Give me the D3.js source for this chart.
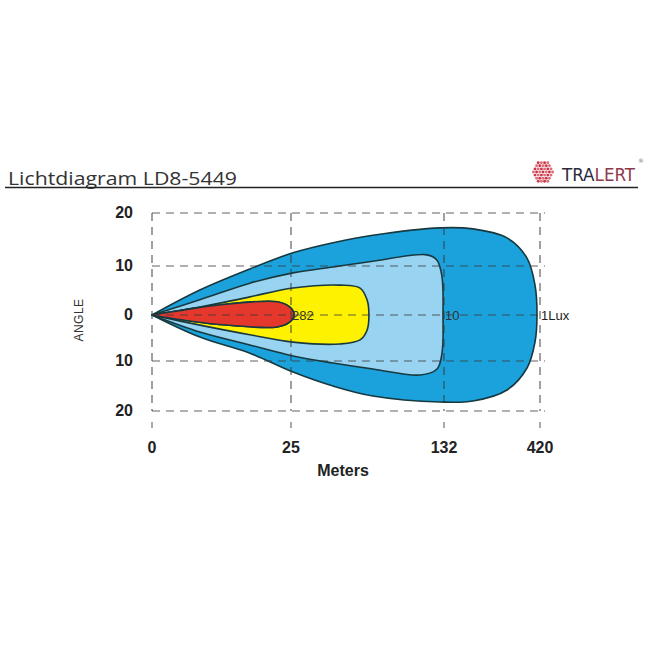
<!DOCTYPE html>
<html><head><meta charset="utf-8">
<script src="https://cdn.jsdelivr.net/npm/d3@7"></script>
<style>body{margin:0;background:#fff}svg{display:block}</style>
</head><body>
<svg id="c" width="650" height="650"></svg>
<script>
// ---- data ----
const title = "Lichtdiagram LD8-5449";
const brandA = "TRA", brandB = "LERT";
const xTicks = [0, 25, 132, 420];
const yTicks = [20, 10, 0, -10, -20];
const xLabel = "Meters", yLabel = "ANGLE";
// contours: [meters, angle]
const contour1Lux = [[0,0],[8.6,5.1],[17.6,9.4],[26.4,12.5],[54.4,14.4],[82.3,15.8],[129.2,17.2],[219,17.0],[321,15.3],[381,11.5],[405,6.1],[411,0],[405,-5.9],[381,-11.4],[321,-15.8],[219,-18.0],[129.2,-18.2],[82.3,-17.0],[54.4,-15.0],[26.4,-12.2],[17.6,-8.3],[8.6,-4.8],[0,0]];
const contour10 = [[0,0],[8.6,3.1],[17.6,6.5],[26.4,8.6],[54.4,9.8],[82.3,10.9],[120.1,12.1],[127.1,11.1],[130.6,7.8],[131.3,0],[130.6,-8.3],[127.1,-11.6],[115.3,-12.8],[82.3,-11.6],[54.4,-10.4],[26.4,-8.9],[17.6,-6.5],[8.6,-3.7],[0,0]];
const contourMid = [[0,0],[8.6,1.6],[17.6,3.7],[26.4,5.5],[59.3,6.1],[73.3,5.5],[78.2,3.1],[79.5,0],[78.2,-3.3],[73.3,-5.4],[59.3,-6.3],[26.4,-5.9],[17.6,-4.3],[8.6,-2.2],[0,0]];
const contour282 = [[0,0],[5.6,1.0],[11.7,2.0],[22.5,2.7],[24.8,1.6],[27.1,0],[24.8,-1.5],[22.5,-2.6],[11.7,-2.0],[5.6,-1.1],[0,0]];
const labelText = ["282", "10", "1Lux"];
const labelAt = [25, 132, 420];

// ---- drawing ----
const svg = d3.select("#c");
const x = d3.scaleLinear().domain(xTicks).range([152, 291, 444, 540]);
const y = d3.scaleLinear().domain(yTicks).range([213, 266, 315, 361, 411]);

// header
svg.append("text").attr("x", 8).attr("y", 185).text(title)
  .attr("font-family", "Open Sans, sans-serif").attr("font-size", 18)
  .attr("textLength", 229).attr("lengthAdjust", "spacingAndGlyphs").attr("fill", "#333");
svg.append("line").attr("x1", 5).attr("x2", 638).attr("y1", 187.5).attr("y2", 187.5)
  .attr("stroke", "#222").attr("stroke-width", 1.5);
// logo icon: hex grid of dots
const icon = svg.append("g").attr("transform", "translate(543,172)");
for (let r = -3; r <= 3; r++) {
  const n = 7 - Math.abs(r);
  for (let i = 0; i < n; i++) {
    const cx = (i - (n - 1) / 2) * 3.2, cy = r * 3.1;
    icon.append("circle").attr("cx", cx).attr("cy", cy).attr("r", 1.45)
      .attr("fill", (i + r) % 2 ? "#c8384a" : "#e06a78");
  }
}
const brand = svg.append("text").attr("x", 562).attr("y", 181)
  .attr("font-family", "DejaVu Sans Condensed, DejaVu Sans, sans-serif").attr("font-size", 17)
  .attr("font-weight", 300)
  .attr("textLength", 73).attr("lengthAdjust", "spacingAndGlyphs");
brand.append("tspan").text(brandA).attr("fill", "#2b2b3e");
brand.append("tspan").text(brandB).attr("fill", "#8e3a4e");
svg.append("text").attr("x", 638).attr("y", 163).text("®").attr("font-size", 6)
  .attr("fill", "#777").attr("font-family", "DejaVu Sans, sans-serif");

// contours
const line = d3.line().x(d => x(d[0])).y(d => y(d[1])).curve(d3.curveCatmullRom.alpha(0.5));
const shapes = [
  [contour1Lux, "#1ba2dc"],
  [contour10, "#98d3f1"],
  [contourMid, "#fff200"],
  [contour282, "#e5382c"]
];
const cg = svg.append("g");
shapes.forEach(([pts, col]) => {
  cg.append("path").attr("d", line(pts) + "Z").attr("fill", col)
    .attr("stroke", "#17393f").attr("stroke-width", 1.6).attr("stroke-linejoin", "round");
});

// grid
const grid = svg.append("g").attr("stroke", "#3a3a3a").attr("stroke-opacity", 0.8)
  .attr("stroke-width", 1.2).attr("stroke-dasharray", "8,6").attr("fill", "none");
yTicks.forEach(t => {
  grid.append("line").attr("x1", x(0)).attr("x2", x(420) + 5).attr("y1", y(t)).attr("y2", y(t));
});
xTicks.forEach(t => {
  grid.append("line").attr("x1", x(t)).attr("x2", x(t)).attr("y1", y(20)).attr("y2", y(-20));
});
// small ticks below
xTicks.forEach(t => {
  svg.append("line").attr("x1", x(t)).attr("x2", x(t)).attr("y1", 422).attr("y2", 428)
    .attr("stroke", "#555").attr("stroke-width", 1);
});
// red on top (grid hidden there in reference)
cg.append("path").attr("d", line(contour282) + "Z").attr("fill", "#e5382c")
  .attr("stroke", "#17393f").attr("stroke-width", 1.6);

// labels on contours
labelText.forEach((t, i) => {
  svg.append("text").attr("x", x(labelAt[i]) + 1).attr("y", y(0) + 5).text(t)
    .attr("font-family", "Liberation Sans, Arial, sans-serif").attr("font-size", 13)
    .attr("fill", i === 2 ? "#222" : "#333");
});

// axis labels
const bold = "Liberation Sans, Arial, sans-serif";
yTicks.forEach(t => {
  svg.append("text").attr("x", 133).attr("y", y(t) + 5).text(Math.abs(t))
    .attr("text-anchor", "end").attr("font-family", bold).attr("font-weight", "bold")
    .attr("font-size", 16).attr("fill", "#222");
});
xTicks.forEach(t => {
  svg.append("text").attr("x", x(t)).attr("y", 453).text(t)
    .attr("text-anchor", "middle").attr("font-family", bold).attr("font-weight", "bold")
    .attr("font-size", 16).attr("fill", "#222");
});
svg.append("text").attr("x", 343).attr("y", 476).text(xLabel)
  .attr("text-anchor", "middle").attr("font-family", bold).attr("font-weight", "bold")
  .attr("font-size", 16).attr("fill", "#222");
svg.append("text").attr("transform", "translate(83,320) rotate(-90)").text(yLabel)
  .attr("text-anchor", "middle").attr("font-family", bold).attr("font-size", 12)
  .attr("letter-spacing", 0.5).attr("fill", "#333");
</script>
</body></html>
